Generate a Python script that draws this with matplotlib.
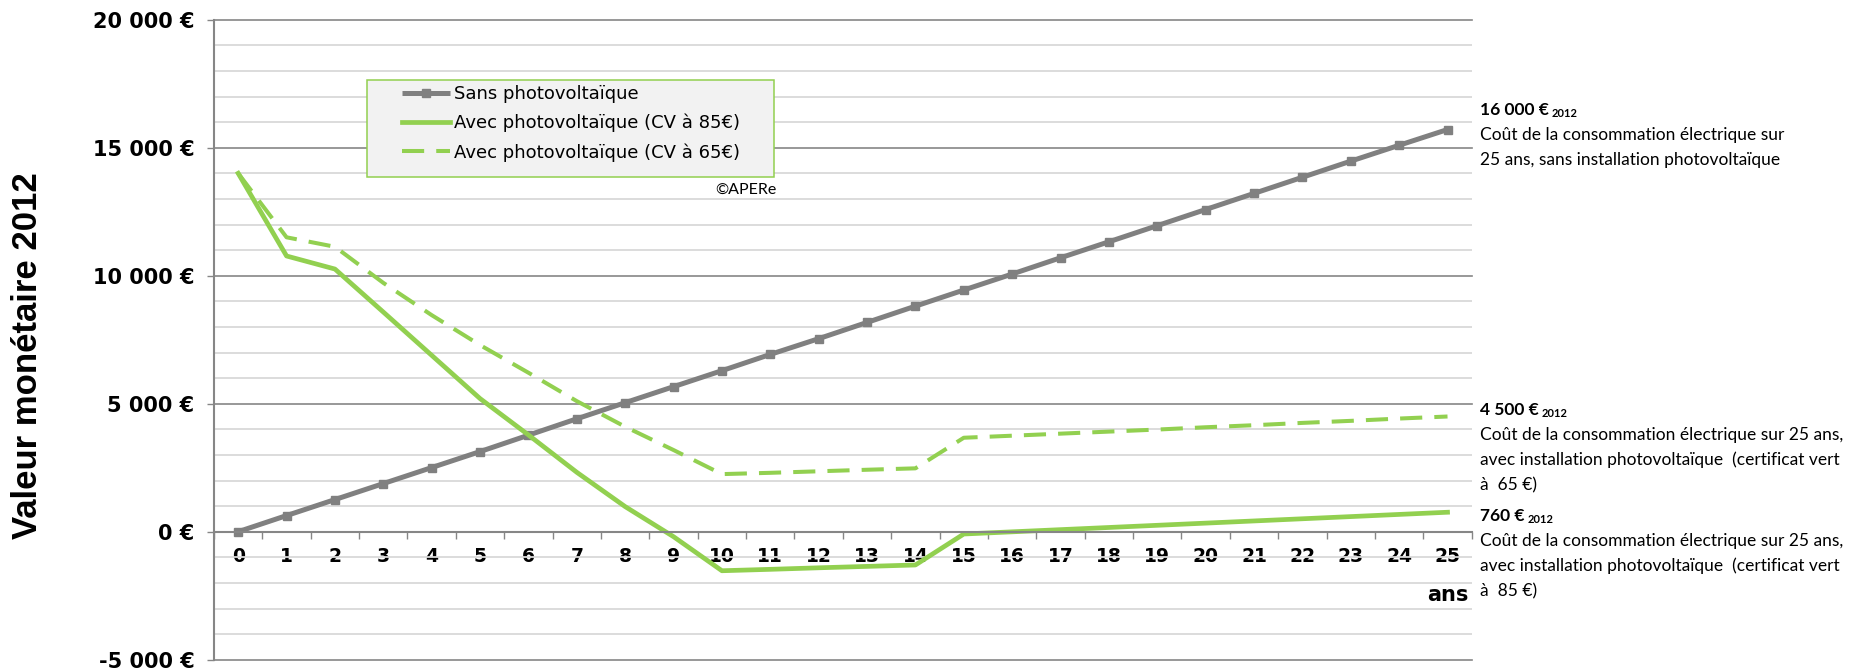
import matplotlib
matplotlib.use("Agg")
import matplotlib.pyplot as plt
from matplotlib.ticker import MultipleLocator, FixedLocator
from matplotlib.patches import Rectangle

plt.rcParams['font.family'] = ['DejaVu Sans']

# ---- data ----
years = [0, 1, 2, 3, 4, 5, 6, 7, 8, 9, 10, 11, 12, 13, 14, 15, 16, 17, 18, 19, 20, 21, 22, 23, 24, 25]
sans_pv = [0, 630, 1255, 1880, 2505, 3130, 3770, 4410, 5040, 5665, 6290, 6925, 7540, 8175, 8810,
           9440, 10065, 10700, 11325, 11955, 12585, 13215, 13845, 14475, 15095, 15710]
avec_85 = [14000, 10770, 10260, 8580, 6890, 5200, 3780, 2320, 980, -195, -1525, -1470, -1410, -1355,
           -1300, -90, -5, 80, 165, 250, 335, 420, 505, 590, 675, 760]
avec_65 = [14000, 11500, 11130, 9720, 8460, 7290, 6210, 5100, 4100, 3190, 2250, 2300, 2360, 2420,
           2475, 3670, 3750, 3830, 3910, 3990, 4080, 4160, 4250, 4330, 4420, 4500]
series_labels = ["Sans photovoltaïque", "Avec photovoltaïque (CV à 85€)", "Avec photovoltaïque (CV à 65€)"]
ytick_vals = [-5000, 0, 5000, 10000, 15000, 20000]
ytick_labels = ["-5 000 €", "0 €", "5 000 €", "10 000 €", "15 000 €", "20 000 €"]
ylabel = "Valeur monétaire 2012"

note_values = ["16 000 €", "4 500 €", "760 €"]
note_lines = [
    ["Coût de la consommation électrique sur", "25 ans, sans installation photovoltaïque"],
    ["Coût de la consommation électrique sur 25 ans,", "avec installation photovoltaïque  (certificat vert", "à  65 €)"],
    ["Coût de la consommation électrique sur 25 ans,", "avec installation photovoltaïque  (certificat vert", "à  85 €)"],
]

W, H = 1861, 670
GREEN = '#92D050'
GRAY = '#808080'
GRID = '#868686'


def px(x, y):
    # pixel position (from top-left) -> figure fraction
    return x / W, 1 - y / H


fig = plt.figure(figsize=(W / 100, H / 100), dpi=100)
ax = fig.add_axes([214 / W, 1 - 659.7 / H, (1471.7 - 214) / W, (659.7 - 19.7) / H])

# spines first: moving a spine resets the ticks
ax.spines['bottom'].set_position(('data', 0))
ax.spines['bottom'].set_color(GRID)
ax.spines['bottom'].set_linewidth(1.5)
ax.spines['left'].set_color(GRID)
ax.spines['left'].set_linewidth(1.5)
ax.spines['top'].set_visible(False)
ax.spines['right'].set_visible(False)

l1, = ax.plot(years, sans_pv, color=GRAY, lw=3.6, marker='s', ms=6, solid_capstyle='butt')
l2, = ax.plot(years, avec_85, color=GREEN, lw=3.4)
l3, = ax.plot(years, avec_65, color=GREEN, lw=2.9, ls=(0, (5.5, 3)))

ax.set_xlim(-0.5, 25.5)
ax.set_ylim(-5000, 20000)

# y axis
ax.set_yticks(ytick_vals, ytick_labels, fontsize=15, fontweight='bold')
ax.yaxis.set_minor_locator(MultipleLocator(1000))
ax.tick_params(axis='y', which='major', length=5, width=1, color=GRID, pad=9)
ax.tick_params(axis='y', which='minor', length=0)
ax.grid(which='minor', axis='y', color='#D9D9D9', lw=1.3)
ax.grid(which='major', axis='y', color=GRID, lw=1.2)
ax.set_axisbelow(True)
for gl in ax.get_ygridlines():
    gl.set_clip_on(False)

# x axis sits on 0, labels on categories, tick marks between them
ax.set_xticks(years, [str(y) for y in years], fontsize=13.5, fontweight='bold')
ax.xaxis.set_minor_locator(FixedLocator([y - 0.5 for y in years] + [25.5]))
ax.tick_params(axis='x', which='major', length=0, pad=11)
ax.tick_params(axis='x', which='minor', length=5, width=1, color=GRID, direction='out')

# legend box drawn by hand so the padding matches
x0, y0 = px(366.7, 176.7)
x1, y1 = px(774, 80)
ax.add_patch(Rectangle((x0, y0), x1 - x0, y1 - y0, transform=fig.transFigure,
                       facecolor='#F2F2F2', edgecolor=GREEN, lw=1.1, zorder=4, clip_on=False))
leg = ax.legend([l1, l2, l3], series_labels, loc='upper left',
                bbox_to_anchor=px(401.7, 85), bbox_transform=fig.transFigure,
                frameon=False, borderpad=0, borderaxespad=0, handlelength=2.66,
                handletextpad=0.25, labelspacing=0.6, prop={'size': 13})
leg.set_zorder(5)

fig.text(*px(777, 190), "©APERe", ha='right', va='center', fontsize=11.5, family='Lato')

# axis titles
fig.text(*px(28, 356), ylabel, rotation=90, ha='center', va='center',
         fontsize=25, fontweight='bold', family='Liberation Sans')
fig.text(*px(1468, 601), "ans", ha='right', va='baseline', fontsize=15, fontweight='bold')

# right-hand notes
group_top = [115, 415, 521]
pitch = 25
for val, lines, yb in zip(note_values, note_lines, group_top):
    t = fig.text(*px(1480, yb), val, ha='left', va='baseline', fontsize=12.5,
                 fontweight='bold', family='Lato')
    plt.annotate("2012", xy=(1, 0), xycoords=t, xytext=(2, -1), textcoords='offset points',
                 fontsize=8, fontweight='bold', family='Lato', va='bottom', ha='left')
    for i, line in enumerate(lines):
        fig.text(*px(1480, yb + pitch * (i + 1)), line, ha='left', va='baseline',
                 fontsize=12.5, family='Lato')

fig.savefig("out.png", dpi=100)
